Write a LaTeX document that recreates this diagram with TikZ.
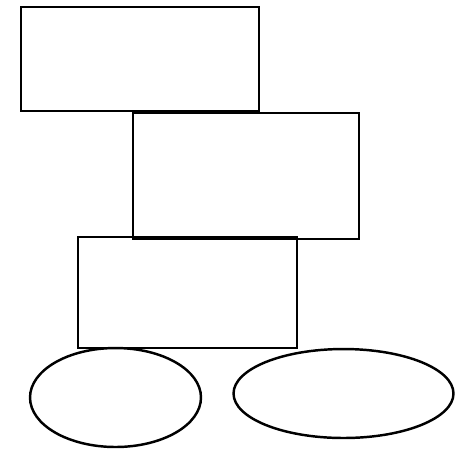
\documentclass[tikz,border=0pt]{standalone}
\usepackage{tikz}
\usetikzlibrary{shapes.geometric,positioning}

\begin{document}
\begin{tikzpicture}[
    x=0.02cm, y=-0.02cm,
    every node/.style={font=\small},
    box/.style={rectangle, draw, line width=1.4pt, inner sep=0pt},
    oval/.style={ellipse, draw, line width=1.4pt, inner sep=0pt}
]
\useasboundingbox (0,0) rectangle (455,451);

% Stacked boxes
\node[box, minimum width=4.76cm, minimum height=2.08cm] (upper) at (140,59) {};
\node[box, minimum width=4.52cm, minimum height=2.52cm] (middle) at (246,176) {};
\node[box, minimum width=4.38cm, minimum height=2.22cm] (lower) at (187.5,292.5) {};

% Ovals under the boxes
\node[oval, minimum width=3.42cm, minimum height=1.98cm] (leftoval) at (115.5,397.5) {};
\node[oval, minimum width=4.40cm, minimum height=1.78cm] (rightoval) at (343.5,393.5) {};

\end{tikzpicture}
\end{document}
